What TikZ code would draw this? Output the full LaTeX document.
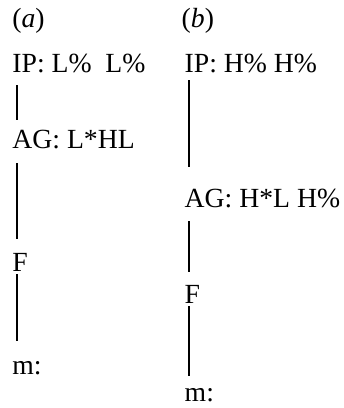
\documentclass[tikz,border=0pt]{standalone}
\usepackage{fontspec}
\setmainfont{Liberation Serif}
\begin{document}
\begin{tikzpicture}[x=1pt,y=1pt,
  lbl/.style={anchor=base west,inner sep=0pt,font=\fontsize{27.7}{32}\selectfont},
  tie/.style={line width=1.4pt,line cap=butt}]
\useasboundingbox[fill=white] (0,0) rectangle (344,-408);

% column (a)
\node[lbl] (capA) at (12.2,-27) {(\textit{a})};
\node[lbl] (ipA)  at (12.2,-72)  {IP: L\%~~L\%};
\node[lbl] (agA)  at (12.2,-148) {AG: L*HL};
\node[lbl] (fA)   at (12.2,-271) {F};
\node[lbl] (mA)   at (12.2,-374) {m:};

\draw[tie] ([xshift=4.8pt,yshift=-13pt]ipA.base west) -- ([xshift=4.8pt,yshift=28pt]agA.base west);
\draw[tie] ([xshift=4.8pt,yshift=-15pt]agA.base west) -- ([xshift=4.8pt,yshift=32pt]fA.base west);
\draw[tie] ([xshift=4.8pt,yshift=-3pt]fA.base west)   -- ([xshift=4.8pt,yshift=33pt]mA.base west);

% column (b)
\node[lbl] (capB) at (181.5,-27) {(\textit{b})};
\node[lbl] (ipB)  at (184.5,-72)  {IP: H\% H\%};
\node[lbl] (agB)  at (184.5,-207) {AG: H*L H\%};
\node[lbl] (fB)   at (184.5,-303) {F};
\node[lbl] (mB)   at (184.5,-401.5) {m:};

\draw[tie] ([xshift=4.5pt,yshift=-8pt]ipB.base west)  -- ([xshift=4.5pt,yshift=40pt]agB.base west);
\draw[tie] ([xshift=4.5pt,yshift=-14pt]agB.base west) -- ([xshift=4.5pt,yshift=31pt]fB.base west);
\draw[tie] ([xshift=4.5pt,yshift=-3pt]fB.base west)   -- ([xshift=4.5pt,yshift=25.5pt]mB.base west);
\end{tikzpicture}
\end{document}
